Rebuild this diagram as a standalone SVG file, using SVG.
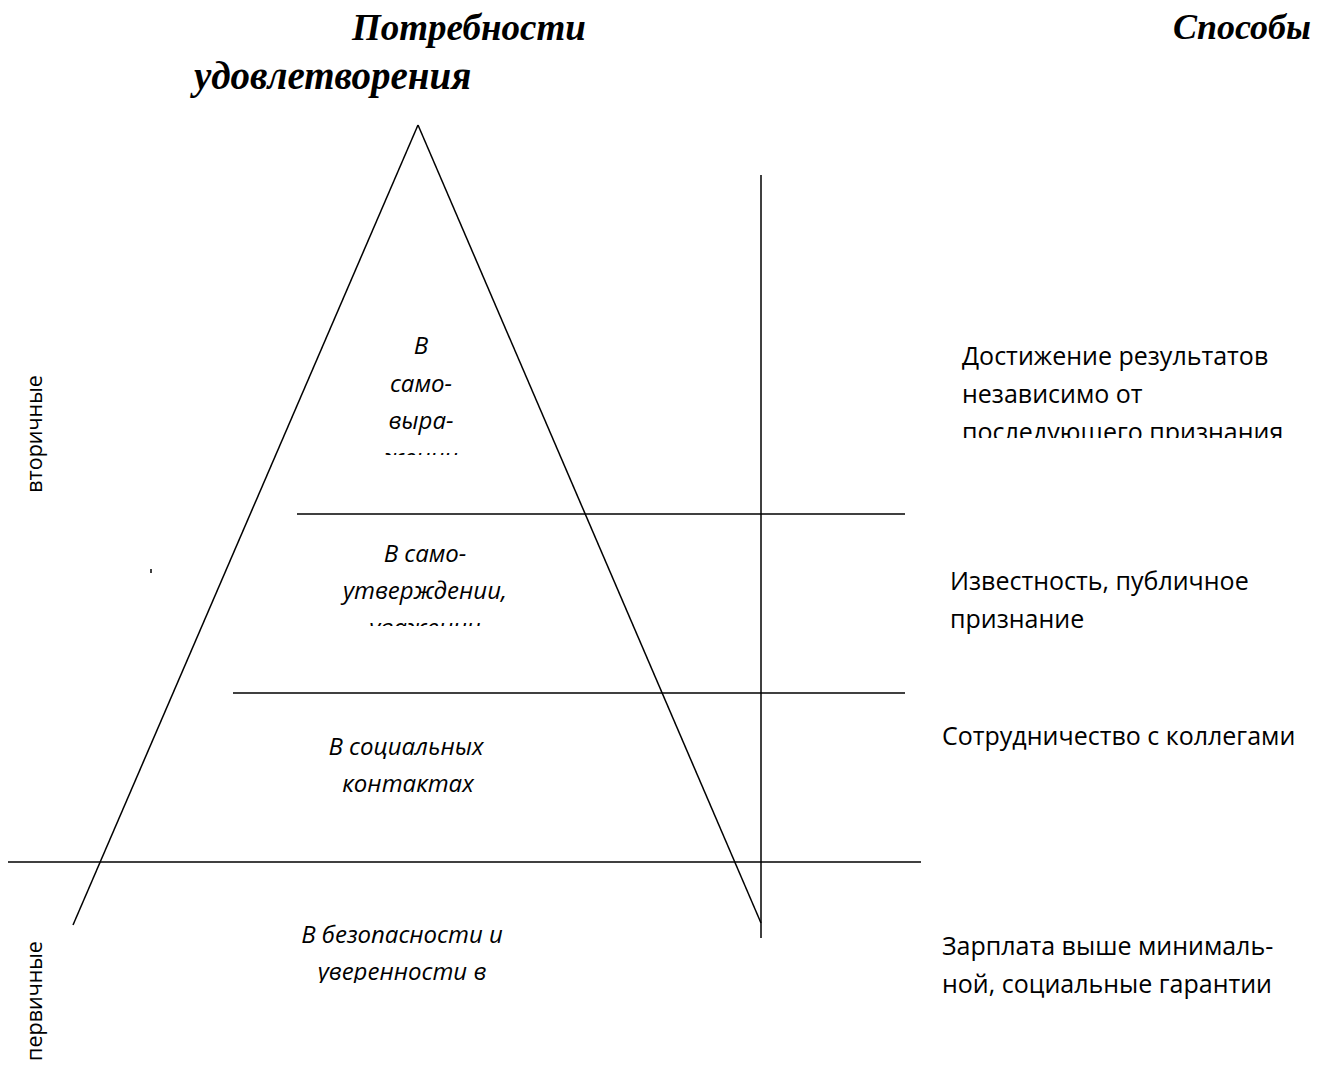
<svg xmlns="http://www.w3.org/2000/svg" width="1330" height="1071" viewBox="0 0 1330 1071">
  <style>
    .head { font-family: "Liberation Serif", "DejaVu Serif", serif; font-weight: bold; font-style: italic; font-size: 37px; fill: #000; }
    .lbl { font-family: "Open Sans", "Noto Sans", sans-serif; font-size: 25px; fill: #000; }
    .side { font-family: "Open Sans", "Noto Sans", sans-serif; font-size: 21.5px; fill: #000; text-anchor: middle; }
    .it { font-style: italic; text-anchor: middle; font-size: 24px; }
    .ln { stroke: #000; stroke-width: 1.5; fill: none; }
  </style>
  <defs>
    <clipPath id="clipTop"><rect x="300" y="300" width="250" height="155"/></clipPath>
    <clipPath id="clipMid"><rect x="300" y="520" width="260" height="106"/></clipPath>
    <clipPath id="clipLow"><rect x="260" y="900" width="300" height="83"/></clipPath>
    <clipPath id="clipRight"><rect x="940" y="320" width="390" height="118"/></clipPath>
  </defs>

  <rect width="1330" height="1071" fill="#fff"/>

  <!-- headings -->
  <g id="heading-needs">
    <text class="head" x="352" y="40">Потребности</text>
    <text class="head" x="194" y="89" style="font-size:39px">удовлетворения</text>
  </g>
  <g id="heading-ways">
    <text class="head" x="1173" y="39" style="font-size:36px">Способы</text>
  </g>

  <!-- pyramid outline, level dividers and the axis -->
  <g id="connectors">
    <line class="ln" x1="418" y1="125" x2="73" y2="925"/>
    <line class="ln" x1="418" y1="125" x2="761" y2="923"/>
    <line class="ln" x1="761" y1="175" x2="761" y2="938"/>
    <line class="ln" x1="297" y1="514" x2="905" y2="514"/>
    <line class="ln" x1="233" y1="693" x2="905" y2="693"/>
    <line class="ln" x1="8" y1="862" x2="921" y2="862"/>
    <line class="ln" x1="151" y1="569" x2="151" y2="573" stroke-width="1"/>
  </g>

  <!-- side labels -->
  <g id="side-secondary">
    <text class="side" transform="translate(42,434) rotate(-90)">вторичные</text>
  </g>
  <g id="side-primary">
    <text class="side" transform="translate(42,1001) rotate(-90)">первичные</text>
  </g>

  <!-- pyramid levels -->
  <g id="level-self-expression" clip-path="url(#clipTop)">
    <text class="lbl it" x="421" y="354">В</text>
    <text class="lbl it" x="421" y="392">само-</text>
    <text class="lbl it" x="421" y="429">выра-</text>
    <text class="lbl it" x="421" y="466">жении</text>
  </g>
  <g id="level-self-affirmation" clip-path="url(#clipMid)">
    <text class="lbl it" x="425" y="562">В само-</text>
    <text class="lbl it" x="425" y="599">утверждении,</text>
    <text class="lbl it" x="425" y="636">уважении</text>
  </g>
  <g id="level-social">
    <text class="lbl it" x="406" y="755">В социальных</text>
    <text class="lbl it" x="408" y="792">контактах</text>
  </g>
  <g id="level-safety" clip-path="url(#clipLow)">
    <text class="lbl it" x="402" y="943">В безопасности и</text>
    <text class="lbl it" x="402" y="980">уверенности в</text>
  </g>

  <!-- ways of satisfaction -->
  <g id="way-achievement" clip-path="url(#clipRight)">
    <text class="lbl" x="962" y="365">Достижение результатов</text>
    <text class="lbl" x="962" y="403">независимо от</text>
    <text class="lbl" x="962" y="441">последующего признания</text>
  </g>
  <g id="way-recognition">
    <text class="lbl" x="950" y="590">Известность, публичное</text>
    <text class="lbl" x="950" y="628">признание</text>
  </g>
  <g id="way-cooperation">
    <text class="lbl" x="942" y="745">Сотрудничество с коллегами</text>
  </g>
  <g id="way-salary">
    <text class="lbl" x="942" y="955">Зарплата выше минималь-</text>
    <text class="lbl" x="942" y="993">ной, социальные гарантии</text>
  </g>
</svg>
